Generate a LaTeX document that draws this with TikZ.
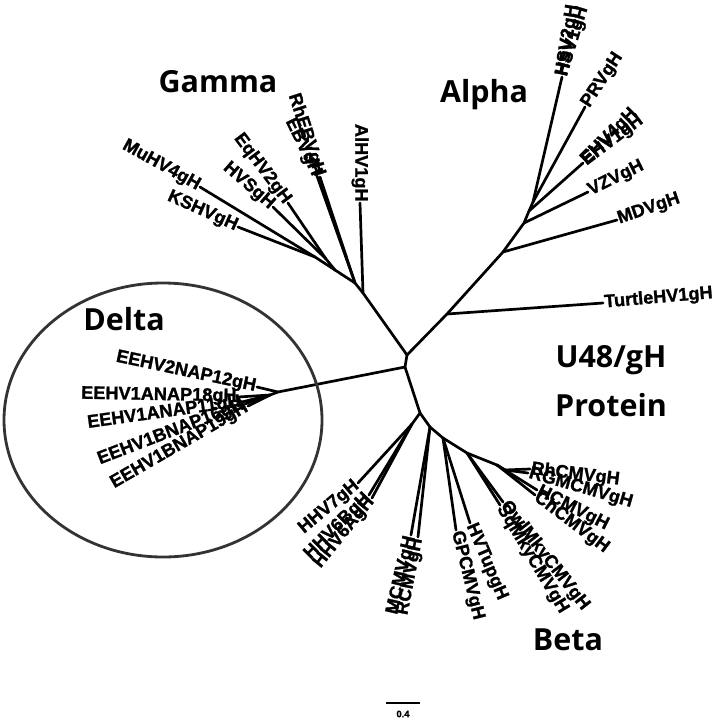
\documentclass[tikz,border=0pt]{standalone}
\usepackage{fontspec}
\setmainfont{Liberation Sans}
\newfontfamily\leaffont{Liberation Sans Bold}[FakeBold=1.3]
\newfontfamily\cladefont{Open Sans}

\begin{document}
\begin{tikzpicture}[x=0.03cm, y=-0.03cm,
    branch/.style={line width=2.3pt, line cap=round, line join=round},
    leaf/.style={font=\leaffont\fontsize{15.5}{17}\selectfont, inner sep=1pt},
    cladename/.style={font=\cladefont\fontsize{26}{30}\selectfont\bfseries,
        inner sep=0pt, align=center}]

    \useasboundingbox (0,0) rectangle (720,722);

    % centre of the tree
    \coordinate (c1) at (407,355);
    \coordinate (c2) at (405,367);

    % alpha
    \coordinate (a0) at (447,314);
    \coordinate (a1) at (503,252);
    \coordinate (a2) at (524,223);
    \coordinate (a3) at (529,211);
    \coordinate (a4) at (533,202);
    \coordinate (turtle) at (603,303);
    \coordinate (mdv) at (617,220);
    \coordinate (vzv) at (588,192);
    \coordinate (ehv) at (583,163);
    \coordinate (prv) at (585,107);
    \coordinate (hsv) at (562,77);

    % gamma
    \coordinate (g0) at (363,293);
    \coordinate (g1) at (355,283);
    \coordinate (g2) at (335,270);
    \coordinate (g3) at (326,259);
    \coordinate (g4) at (315,257);
    \coordinate (alhv) at (360,203);
    \coordinate (rheb) at (320,177);
    \coordinate (ebv) at (317,176);
    \coordinate (eq) at (288,203);
    \coordinate (hvs) at (273,207);
    \coordinate (ks) at (238,227);
    \coordinate (mu) at (200,187);

    % delta
    \coordinate (d0) at (278,392);
    \coordinate (d1) at (270,395);
    \coordinate (e2) at (257,387);
    \coordinate (ea18) at (238,397);
    \coordinate (ea11) at (242,402);
    \coordinate (eb16) at (245,404);
    \coordinate (eb19) at (248,406);

    % beta
    \coordinate (b0) at (420,413);
    \coordinate (b1) at (412,424);
    \coordinate (n1) at (430,427);
    \coordinate (n2) at (443,438);
    \coordinate (n3) at (467,453);
    \coordinate (n4) at (497,465);
    \coordinate (n5) at (505,470);
    \coordinate (hhv7) at (358,483);
    \coordinate (hhv6b) at (369,495);
    \coordinate (hhv6a) at (372,498);
    \coordinate (mcmv) at (411,535);
    \coordinate (rcmv) at (418,537);
    \coordinate (gp) at (456,530);
    \coordinate (hvt) at (470,523);
    \coordinate (owl) at (503,502);
    \coordinate (sq) at (500,505);
    \coordinate (rh) at (530,469);
    \coordinate (rgm) at (528,473);
    \coordinate (hcmv) at (537,490);
    \coordinate (chcmv) at (535,495);

    % branches
    \draw[branch] (c1) -- (c2);
    \draw[branch] (c1) -- (a0) -- (a1) -- (a2) -- (a3) -- (a4) -- (hsv);
    \draw[branch] (a0) -- (turtle);
    \draw[branch] (a1) -- (mdv);
    \draw[branch] (a2) -- (vzv);
    \draw[branch] (a3) -- (ehv);
    \draw[branch] (a4) -- (prv);
    \draw[branch] (c1) -- (g0) -- (alhv);
    \draw[branch] (g0) -- (g1) -- (rheb);
    \draw[branch] (g1) -- (ebv);
    \draw[branch] (g1) -- (g2) -- (g3) -- (eq);
    \draw[branch] (g3) -- (hvs);
    \draw[branch] (g2) -- (g4) -- (ks);
    \draw[branch] (g4) -- (mu);
    \draw[branch] (c2) -- (d0) -- (d1) -- (ea18);
    \draw[branch] (d0) -- (e2);
    \draw[branch] (d1) -- (ea11);
    \draw[branch] (d1) -- (eb16);
    \draw[branch] (d1) -- (eb19);
    \draw[branch] (c2) -- (b0) -- (b1) -- (hhv7);
    \draw[branch] (b1) -- (hhv6b);
    \draw[branch] (b1) -- (hhv6a);
    \draw[branch] (b0) -- (n1) -- (n2) -- (n3) -- (n4) -- (n5) -- (rh);
    \draw[branch] (n5) -- (rgm);
    \draw[branch] (n4) -- (hcmv);
    \draw[branch] (n4) -- (chcmv);
    \draw[branch] (n1) -- (mcmv);
    \draw[branch] (n1) -- (rcmv);
    \draw[branch] (n2) -- (gp);
    \draw[branch] (n2) -- (hvt);
    \draw[branch] (n3) -- (owl);
    \draw[branch] (n3) -- (sq);

    % leaf names
    \node[leaf, anchor=west, rotate=5] (lturtle) at (turtle) {TurtleHV1gH};
    \node[leaf, anchor=west, rotate=19] (lmdv) at (mdv) {MDVgH};
    \node[leaf, anchor=west, rotate=26] (lvzv) at (vzv) {VZVgH};
    \node[leaf, anchor=west, rotate=45] (lehv4) at (ehv) {EHV4gH};
    \node[leaf, anchor=west, rotate=37] (lehv1) at (ehv) {EHV1gH};
    \node[leaf, anchor=west, rotate=57] (lprv) at (prv) {PRVgH};
    \node[leaf, anchor=west, rotate=81] (lhsv2) at (hsv) {HSV2gH};
    \node[leaf, anchor=west, rotate=73] (lhsv1) at (hsv) {HSV1gH};

    \node[leaf, anchor=east, rotate=-90] (lalhv) at (alhv) {AlHV1gH};
    \node[leaf, anchor=east, rotate=-72] (lrheb) at (rheb) {RhEBVgH};
    \node[leaf, anchor=east, rotate=-64] (lebv) at (ebv) {EBVgH};
    \node[leaf, anchor=east, rotate=-53] (leq) at (eq) {EqHV2gH};
    \node[leaf, anchor=east, rotate=-41] (lhvs) at (hvs) {HVSgH};
    \node[leaf, anchor=east, rotate=-24] (lks) at (ks) {KSHVgH};
    \node[leaf, anchor=east, rotate=-29] (lmu) at (mu) {MuHV4gH};

    \node[leaf, anchor=east, rotate=-12] (le2) at (e2) {EEHV2NAP12gH};
    \node[leaf, anchor=east, rotate=-1] (lea18) at (ea18) {EEHV1ANAP18gH};
    \node[leaf, anchor=east, rotate=8] (lea11) at (ea11) {EEHV1ANAP11gH};
    \node[leaf, anchor=east, rotate=21] (leb16) at (eb16) {EEHV1BNAP16gH};
    \node[leaf, anchor=east, rotate=30] (leb19) at (eb19) {EEHV1BNAP19gH};

    \node[leaf, anchor=east, rotate=40] (lhhv7) at (hhv7) {HHV7gH};
    \node[leaf, anchor=east, rotate=45] (lhhv6b) at (hhv6b) {HHV6BgH};
    \node[leaf, anchor=east, rotate=51] (lhhv6a) at (hhv6a) {HHV6AgH};
    \node[leaf, anchor=east, rotate=77] (lmcmv) at (mcmv) {MCMVgH};
    \node[leaf, anchor=east, rotate=79] (lrcmv) at (rcmv) {RCMVgH};
    \node[leaf, anchor=west, rotate=-76] (lgp) at (gp) {GPCMVgH};
    \node[leaf, anchor=west, rotate=-67] (lhvt) at (hvt) {HVTupgH};
    \node[leaf, anchor=west, rotate=-52] (lowl) at (owl) {OwlMkyCMVgH};
    \node[leaf, anchor=west, rotate=-59] (lsq) at (sq) {SqMkyCMVgH};
    \node[leaf, anchor=west, rotate=-7] (lrh) at (rh) {RhCMVgH};
    \node[leaf, anchor=west, rotate=-16] (lrgm) at (rgm) {RGMCMVgH};
    \node[leaf, anchor=west, rotate=-27] (lhcmv) at (hcmv) {HCMVgH};
    \node[leaf, anchor=west, rotate=-37] (lchcmv) at (chcmv) {ChCMVgH};

    % delta ring
    \draw[line width=2.4pt, black!80] (163,420) ellipse [x radius=159, y radius=137];

    % group names
    \node[cladename] (gamma) at (218,82) {Gamma};
    \node[cladename] (alpha) at (484,95) {Alpha};
    \node[cladename] (delta) at (124,319) {Delta};
    \node[cladename] (beta) at (568,640) {Beta};
    \node[cladename] (prot) at (611,381) {U48/gH\\[12pt]Protein};

    % scale bar
    \coordinate (s1) at (386,703);
    \coordinate (s2) at (420,703);
    \draw[line width=1.2pt] (s1) -- (s2);
    \node[font=\leaffont\fontsize{8}{9}\selectfont, inner sep=0pt] (sbar) at (403,714) {0.4};
\end{tikzpicture}
\end{document}
